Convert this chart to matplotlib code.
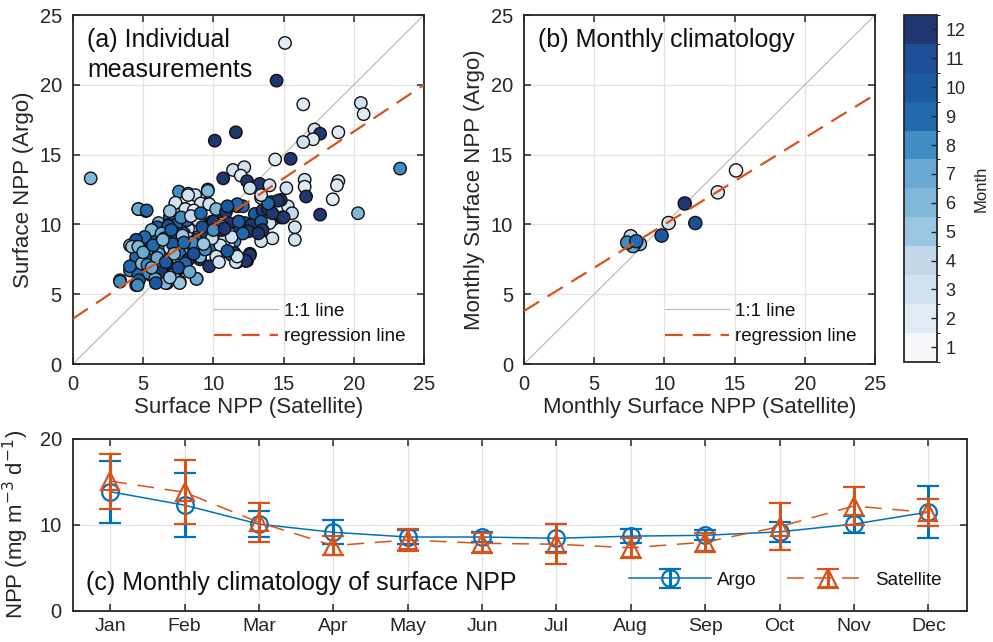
import numpy as np
import matplotlib
matplotlib.use("Agg")
import matplotlib.pyplot as plt
from matplotlib.colors import ListedColormap, BoundaryNorm
from matplotlib.colorbar import ColorbarBase

plt.rcParams['font.family'] = ['Liberation Sans', 'DejaVu Sans']

# ---------------- data ----------------
months = ['Jan', 'Feb', 'Mar', 'Apr', 'May', 'Jun', 'Jul', 'Aug', 'Sep', 'Oct', 'Nov', 'Dec']
argo_mean = [13.87, 12.3, 10.1, 9.15, 8.6, 8.6, 8.45, 8.7, 8.8, 9.2, 10.1, 11.5]
argo_err = [3.6, 3.7, 1.5, 1.4, 0.8, 0.55, 1.65, 0.8, 0.6, 1.15, 1.0, 3.05]
sat_mean = [15.1, 13.8, 10.3, 7.6, 8.25, 7.87, 7.76, 7.35, 8.0, 9.8, 12.2, 11.45]
sat_err = [3.2, 3.74, 2.3, 1.07, 1.28, 1.17, 2.33, 1.15, 1.1, 2.7, 2.2, 1.55]

# regression coefficients (intercept, slope)
reg_a = [3.25, 0.67]
reg_b = [3.8, 0.62]

# individual measurements: (satellite, argo, month)
ind_sat = [15.1, 14.5, 16.4, 20.5, 20.7, 17.2, 17.6, 17.1, 16.4, 18.9,
           10.1, 11.6, 14.4, 15.5, 1.26, 23.3, 16.5, 16.5, 16.6, 18.9,
           18.8, 18.5, 20.3, 17.6, 15.2, 15.3, 15.6, 15.8, 15.8, 14.2,
           13.4, 11.4, 12.2, 11.95, 10.7, 12.4, 13.3, 14.0, 12.6, 13.4,
           14.1, 14.8, 11.7, 12.1, 12.95, 13.5, 13.9, 14.3, 14.0, 14.85,
           11.8, 12.25, 12.7, 13.4, 13.5, 11.1, 11.8, 12.5, 13.2, 11.2,
           11.5, 11.1, 11.5, 12.6, 11.9, 11.7, 12.4, 12.3,
           7.55, 8.2, 8.7, 9.6, 9.6, 9.1, 7.3, 4.66, 5.2, 10.35,
           8.45, 8.0, 7.3, 6.9, 9.0, 8.0, 6.1, 6.8, 7.5, 9.9,
           8.2, 7.9, 9.4, 10.1, 8.9, 10.35, 10.8, 4.06, 4.5, 6.3,
           5.8, 5.4, 6.3, 6.8, 7.4, 8.2, 8.8, 9.05, 9.4, 9.9,
           10.35, 4.5, 4.06, 4.65, 3.35, 4.5, 5.5, 6.0, 6.7, 7.0,
           7.6, 6.1, 6.8, 7.4, 8.8,
           9.6, 8.2, 7.3, 6.9, 8.0, 8.6, 9.7, 10.2, 10.9, 11.7,
           11.8, 6.0, 6.8, 8.1, 8.9, 10.0, 5.6, 6.3, 7.4, 8.2,
           8.8, 9.5, 10.6, 11.3, 12.1, 5.1, 4.5, 5.5, 6.2, 6.9,
           7.8, 8.7, 9.8, 10.5, 4.5, 5.25, 6.1, 6.9, 7.6, 8.2,
           9.05, 10.2, 11.3, 4.06, 4.9, 6.0, 6.7, 7.4, 8.0, 9.4,
           5.4, 6.3, 7.15, 4.7, 5.85,
           12.6, 12.3, 11.6, 11.7, 8.8, 7.6, 6.6, 5.9, 4.6, 3.35,
           4.2, 4.65, 4.65, 5.25, 14.6, 15.0, 14.2, 13.9, 13.4, 11.0,
           5.0, 5.7, 6.5, 7.1, 7.8, 8.5, 9.2, 9.9, 10.6, 5.3,
           6.0, 6.6, 7.2, 7.9, 8.6, 9.3, 10.0, 10.8, 5.6, 6.4,
           7.0, 7.7, 8.4, 9.1, 6.9, 7.5, 8.3, 9.7, 10.4, 11.0]
ind_argo = [23.0, 20.3, 18.6, 18.7, 17.9, 16.8, 16.5, 16.1, 15.9, 16.6,
            16.0, 16.6, 14.65, 14.7, 13.3, 14.0, 13.2, 12.7, 12.0, 13.1,
            12.8, 11.8, 10.8, 10.7, 12.6, 11.3, 10.8, 9.8, 8.9, 9.0,
            8.8, 13.9, 14.1, 13.5, 13.3, 13.1, 12.9, 12.8, 12.6, 11.9,
            11.6, 11.75, 11.3, 11.3, 10.75, 11.0, 11.1, 10.4, 10.1, 10.5,
            10.2, 10.1, 9.96, 10.2, 9.6, 10.1, 9.5, 9.5, 9.36, 9.3,
            8.8, 8.4, 7.95, 7.9, 7.5, 7.3, 7.4, 7.4,
            12.35, 12.2, 12.1, 12.5, 11.5, 11.5, 11.5, 11.1, 10.96, 10.9,
            10.9, 11.1, 10.8, 10.55, 10.3, 10.4, 10.1, 9.96, 10.1, 10.2,
            9.7, 9.36, 9.6, 9.36, 9.1, 8.9, 8.9, 8.5, 8.4, 8.8,
            8.8, 8.2, 8.05, 7.3, 8.2, 8.2, 8.3, 7.5, 8.2, 8.3,
            7.7, 7.45, 6.7, 6.4, 6.0, 5.65, 6.4, 6.0, 5.8, 6.3,
            5.9, 6.7, 6.7, 6.7, 6.1,
            12.4, 12.1, 11.55, 10.95, 11.1, 11.0, 11.45, 11.1, 10.9, 11.45,
            10.2, 9.8, 9.9, 10.3, 10.3, 10.2, 9.6, 9.35, 9.35, 9.0,
            8.9, 9.35, 9.6, 9.1, 9.35, 9.1, 8.9, 8.2, 8.6, 8.3,
            8.0, 8.3, 8.3, 8.5, 7.7, 7.55, 7.9, 7.45, 7.9, 7.45,
            7.7, 7.7, 7.8, 7.0, 7.2, 7.0, 7.2, 6.85, 7.2, 8.2,
            6.5, 6.6, 6.4, 6.0, 6.1,
            7.8, 7.4, 7.3, 7.7, 6.1, 5.8, 5.8, 5.8, 5.65, 5.9,
            8.4, 8.4, 11.1, 11.0, 11.7, 10.5, 10.8, 11.5, 12.1, 11.3,
            8.0, 8.5, 9.0, 8.6, 9.2, 8.7, 9.8, 9.0, 9.9, 7.1,
            7.6, 7.3, 7.9, 8.7, 7.9, 8.6, 9.6, 9.7, 6.9, 8.9,
            9.6, 10.5, 10.6, 10.8, 6.2, 6.9, 6.6, 7.0, 7.3, 8.1]
ind_month = [2, 12, 2, 3, 2, 3, 12, 2, 3, 2,
             12, 12, 2, 12, 6, 8, 3, 2, 12, 3,
             2, 2, 6, 12, 3, 3, 4, 3, 3, 3,
             3, 3, 3, 2, 12, 12, 12, 3, 3, 3,
             11, 12, 11, 9, 10, 12, 12, 4, 3, 12,
             12, 11, 12, 10, 12, 12, 11, 12, 12, 5,
             8, 3, 12, 12, 3, 2, 12, 12,
             8, 4, 3, 6, 5, 3, 3, 6, 9, 12,
             3, 4, 5, 9, 2, 8, 6, 10, 9, 12,
             3, 11, 4, 11, 8, 6, 3, 5, 6, 8,
             10, 11, 8, 6, 3, 6, 8, 12, 9, 9,
             3, 9, 8, 9, 8, 8, 7, 8, 11, 6,
             6, 10, 11, 12, 7,
             6, 3, 3, 5, 3, 2, 3, 6, 12, 9,
             10, 10, 11, 9, 3, 12, 6, 7, 10, 3,
             9, 12, 12, 3, 9, 9, 11, 6, 8, 3,
             6, 7, 9, 3, 9, 10, 7, 3, 9, 12,
             6, 3, 9, 9, 6, 5, 12, 7, 9, 8,
             8, 12, 6, 10, 7,
             12, 12, 3, 3, 7, 5, 6, 10, 8, 8,
             5, 6, 7, 9, 12, 12, 12, 9, 3, 10,
             7, 9, 6, 10, 5, 8, 11, 4, 9, 8,
             7, 10, 6, 9, 11, 5, 8, 12, 7, 6,
             10, 8, 4, 9, 5, 11, 7, 12, 3, 10]

month_colors = ['#f7f8fb', '#e1ebf5', '#d1e2f1', '#c3d8eb', '#9ac6e1', '#80b8da',
                '#6aaad4', '#3f8dc3', '#2268ad', '#1b5aa0', '#1d4f97', '#1f3670']

# ---------------- styling ----------------
EDGE = '#262626'
GRID = '#e3e3e3'
ORANGE = '#D95319'
BLUE = '#0072BD'
TICKFS = 14.5
LABELFS = 16
TITLEFS = 18
LEGFS = 13.5
cmap = ListedColormap(month_colors)
norm = BoundaryNorm(np.arange(0.5, 13.5, 1), cmap.N)

fig = plt.figure(figsize=(9.93, 6.42), dpi=100)


def style_axes(ax):
    for s in ax.spines.values():
        s.set_color(EDGE)
        s.set_linewidth(1.3)
    ax.tick_params(direction='in', top=True, right=True, colors=EDGE,
                   labelsize=TICKFS, length=5, width=1.1, labelcolor=EDGE, pad=8)
    ax.grid(True, color=GRID, linewidth=0.9)
    ax.set_axisbelow(True)


def scatter_panel(ax, xs, ys, ms, reg, title, xlabel, ylabel, size):
    style_axes(ax)
    lim = np.array([0, 25])
    ax.plot(lim, lim, color='#bdbdbd', lw=0.9, label='1:1 line', zorder=1)
    ax.plot(lim, reg[0] + reg[1] * lim, color=ORANGE, lw=1.6,
            dashes=(8, 4.5), label='regression line', zorder=3)
    ax.scatter(xs, ys, c=ms, cmap=cmap, norm=norm, s=size, edgecolors='#111111',
               linewidths=1.0, zorder=2)
    ax.set_xlim(0, 25)
    ax.set_ylim(0, 25)
    ax.set_xticks([0, 5, 10, 15, 20, 25])
    ax.set_yticks([0, 5, 10, 15, 20, 25])
    ax.set_xlabel(xlabel, fontsize=LABELFS, color=EDGE, labelpad=2)
    ax.set_ylabel(ylabel, fontsize=LABELFS, color=EDGE, labelpad=4)
    ax.text(0.04, 0.962, title, transform=ax.transAxes, fontsize=TITLEFS,
            va='top', ha='left', color='#111111', linespacing=1.28)
    leg = ax.legend(loc='lower right', frameon=False, fontsize=LEGFS,
                    handlelength=3.4, handletextpad=0.3, labelspacing=0.45,
                    borderaxespad=0.6, bbox_to_anchor=(1.0, 0.0))
    for t in leg.get_texts():
        t.set_color('#111111')


ax_a = fig.add_axes([0.0735, 0.433, 0.3535, 0.5436])
scatter_panel(ax_a, ind_sat, ind_argo, ind_month, reg_a,
              '(a) Individual\nmeasurements', 'Surface NPP (Satellite)', 'Surface NPP (Argo)', 80)

ax_b = fig.add_axes([0.5277, 0.433, 0.3535, 0.5436])
scatter_panel(ax_b, sat_mean, argo_mean, list(range(1, 13)), reg_b,
              '(b) Monthly climatology', 'Monthly Surface NPP (Satellite)',
              'Monthly Surface NPP (Argo)', 90)

# colorbar
cax = fig.add_axes([0.9104, 0.4366, 0.033, 0.540])
cb = ColorbarBase(cax, cmap=cmap, norm=norm, ticks=range(1, 13), orientation='vertical')
cb.outline.set_edgecolor(EDGE)
cb.outline.set_linewidth(1.3)
cax.tick_params(direction='in', colors=EDGE, labelsize=13, length=4, width=1.0,
                labelcolor=EDGE, pad=6)
cb.set_label('Month', fontsize=12, color=EDGE, labelpad=6)

# panel c
ax_c = fig.add_axes([0.0735, 0.0483, 0.9003, 0.268])
style_axes(ax_c)
x = np.arange(1, 13)
ax_c.errorbar(x, argo_mean, yerr=argo_err, color=BLUE, lw=1.1, marker='o',
              markersize=12, markerfacecolor='none', markeredgewidth=1.6,
              elinewidth=2.2, capsize=8, capthick=2.2, label='Argo', zorder=3)
ax_c.errorbar(x, sat_mean, yerr=sat_err, color=ORANGE, lw=1.1, marker='^',
              markersize=13, markerfacecolor='none', markeredgewidth=1.6,
              elinewidth=2.2, capsize=8, capthick=2.2, label='Satellite',
              dashes=(11, 7), zorder=4)
ax_c.set_xlim(0.5, 12.52)
ax_c.set_ylim(0, 20)
ax_c.set_xticks(x)
ax_c.set_xticklabels(months)
ax_c.set_yticks([0, 10, 20])
ax_c.tick_params(axis='x', pad=5, labelsize=14)
ax_c.set_ylabel('NPP (mg m$^{-3}$ d$^{-1}$)', fontsize=LABELFS, color=EDGE, labelpad=6)
ax_c.text(0.015, 0.16, '(c) Monthly climatology of surface NPP', transform=ax_c.transAxes,
          fontsize=TITLEFS, va='center', ha='left', color='#111111')
leg = ax_c.legend(loc='lower right', ncol=2, frameon=False, fontsize=LEGFS,
                  handlelength=4.4, handletextpad=0.3, columnspacing=1.6,
                  bbox_to_anchor=(0.99, 0.03))
for t in leg.get_texts():
    t.set_color('#111111')

fig.savefig('out.png', dpi=100)
